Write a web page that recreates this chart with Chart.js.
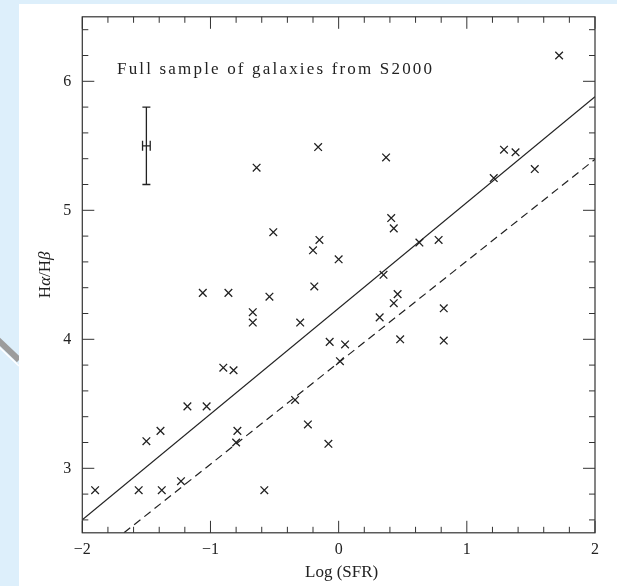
<!DOCTYPE html>
<html>
<head>
<meta charset="utf-8">
<title>Halpha/Hbeta vs Log(SFR)</title>
<script src="https://cdn.jsdelivr.net/npm/chart.js@4.4.0/dist/chart.umd.min.js"></script>
<style>
    html, body { margin: 0; padding: 0; background: #ddeffb; }
    #wrap { position: relative; width: 617px; height: 586px; }
    canvas { display: block; }
</style>
</head>
<body>
<div id="wrap"><canvas id="sfrChart" width="617" height="586"></canvas></div>
<script>
// Galaxy sample
const logSFR = [-1.90, -1.56, -1.50, -1.39, -1.38, -1.23, -1.18, -1.06, -1.03, -0.90,
                -0.86, -0.82, -0.79, -0.80, -0.67, -0.67, -0.64, -0.58, -0.54, -0.51,
                -0.30, -0.34, -0.24, -0.08, -0.16, -0.15, -0.20, -0.19, 0.00, -0.07,
                0.01, 0.05, 0.37, 1.72, 1.29, 1.38, 1.53, 1.21, 0.41, 0.43,
                0.63, 0.78, 0.35, 0.46, 0.43, 0.32, 0.82, 0.48, 0.82];
const balmer = [2.83, 2.83, 3.21, 3.29, 2.83, 2.90, 3.48, 4.36, 3.48, 3.78,
                4.36, 3.76, 3.29, 3.20, 4.21, 4.13, 5.33, 2.83, 4.33, 4.83,
                4.13, 3.53, 3.34, 3.19, 5.49, 4.77, 4.69, 4.41, 4.62, 3.98,
                3.83, 3.96, 5.41, 6.20, 5.47, 5.45, 5.32, 5.25, 4.94, 4.86,
                4.75, 4.77, 4.50, 4.35, 4.28, 4.17, 4.24, 4.00, 3.99];

// fitted relation (solid) and offset relation (dashed)
const fitX = [-2, 2];
const fitY = [2.60, 5.88];
const offX = [-1.675, 2];
const offY = [2.50, 5.395];

// typical error bar
const errX = -1.5;
const errY = 5.5;
const errDy = 0.3;
const errDx = 0.03;

const xTicks = [-2, -1, 0, 1, 2];
const yTicks = [3, 4, 5, 6];

const SERIF = "'Liberation Serif', 'DejaVu Serif', serif";
const INK = '#222';

const toPts = (xs, ys) => xs.map((x, i) => ({ x: x, y: ys[i] }));

// page backdrop: blue margin, white sheet, grey arrow stub
const backdrop = {
    id: 'backdrop',
    beforeDraw(chart) {
        const ctx = chart.ctx;
        ctx.save();
        ctx.fillStyle = '#ddeffb';
        ctx.fillRect(0, 0, chart.width, chart.height);
        ctx.fillStyle = '#ffffff';
        ctx.fillRect(19, 4, chart.width - 19, chart.height - 4);
        ctx.beginPath();
        ctx.rect(0, 0, 19, chart.height);
        ctx.clip();
        ctx.strokeStyle = '#9c9c9c';
        ctx.lineWidth = 6;
        ctx.beginPath();
        ctx.moveTo(-20, 323);
        ctx.lineTo(19, 360);
        ctx.stroke();
        ctx.strokeStyle = '#ffffff';
        ctx.lineWidth = 1.5;
        ctx.beginPath();
        ctx.moveTo(-20, 329);
        ctx.lineTo(19, 366);
        ctx.stroke();
        ctx.restore();
    }
};

// box with inward ticks on all four sides, error bar, labels
const frame = {
    id: 'frame',
    afterDraw(chart) {
        const ctx = chart.ctx;
        const a = chart.chartArea;
        const xs = chart.scales.x, ys = chart.scales.y;
        ctx.save();
        ctx.strokeStyle = '#333';
        ctx.lineWidth = 1.2;
        ctx.strokeRect(a.left, a.top, a.right - a.left, a.bottom - a.top);

        ctx.lineWidth = 1;
        ctx.beginPath();
        for (let i = -10; i <= 10; i++) {
            const px = xs.getPixelForValue(i / 5);
            const len = i % 5 === 0 ? 12 : 6;
            ctx.moveTo(px, a.bottom); ctx.lineTo(px, a.bottom - len);
            ctx.moveTo(px, a.top); ctx.lineTo(px, a.top + len);
        }
        for (let i = 13; i <= 32; i++) {
            const py = ys.getPixelForValue(i / 5);
            const len = i % 5 === 0 ? 12 : 6;
            ctx.moveTo(a.left, py); ctx.lineTo(a.left + len, py);
            ctx.moveTo(a.right, py); ctx.lineTo(a.right - len, py);
        }
        ctx.stroke();

        // error bar
        const ex = xs.getPixelForValue(errX);
        const eyT = ys.getPixelForValue(errY + errDy);
        const eyB = ys.getPixelForValue(errY - errDy);
        const eyC = ys.getPixelForValue(errY);
        const exL = xs.getPixelForValue(errX - errDx);
        const exR = xs.getPixelForValue(errX + errDx);
        ctx.strokeStyle = INK;
        ctx.lineWidth = 1.3;
        ctx.beginPath();
        ctx.moveTo(ex, eyT); ctx.lineTo(ex, eyB);
        ctx.moveTo(ex - 4, eyT); ctx.lineTo(ex + 4, eyT);
        ctx.moveTo(ex - 4, eyB); ctx.lineTo(ex + 4, eyB);
        ctx.moveTo(exL, eyC); ctx.lineTo(exR, eyC);
        ctx.moveTo(exL, eyC - 5); ctx.lineTo(exL, eyC + 5);
        ctx.moveTo(exR, eyC - 5); ctx.lineTo(exR, eyC + 5);
        ctx.stroke();

        // title inside the box, spread out like the original lettering
        ctx.fillStyle = INK;
        ctx.font = '17px ' + SERIF;
        ctx.textBaseline = 'alphabetic';
        const title = 'Full sample of galaxies from S2000';
        const natural = ctx.measureText(title).width;
        const gap = (315 - natural) / (title.length - 1);
        let tx = 117;
        for (const ch of title) {
            ctx.fillText(ch, tx, 73.5);
            tx += ctx.measureText(ch).width + gap;
        }

        // x axis title
        ctx.textAlign = 'center';
        ctx.font = '17px ' + SERIF;
        ctx.fillText('Log (SFR)', (a.left + a.right) / 2 + 3, 577);

        // y axis title with italic greek letters
        const parts = [['H', false], ['\u03b1', true], ['/H', false], ['\u03b2', true]];
        ctx.translate(50, (a.top + a.bottom) / 2);
        ctx.rotate(-Math.PI / 2);
        ctx.textAlign = 'left';
        let total = 0;
        for (const p of parts) {
            ctx.font = (p[1] ? 'italic ' : '') + '17px ' + SERIF;
            total += ctx.measureText(p[0]).width;
        }
        let ox = -total / 2;
        for (const p of parts) {
            ctx.font = (p[1] ? 'italic ' : '') + '17px ' + SERIF;
            ctx.fillText(p[0], ox, 0);
            ox += ctx.measureText(p[0]).width;
        }
        ctx.restore();
    }
};

const ctx = document.getElementById('sfrChart').getContext('2d');
const sfrChart = new Chart(ctx, {
    type: 'scatter',
    data: {
        datasets: [{
            label: 'galaxies',
            data: toPts(logSFR, balmer),
            pointStyle: 'crossRot',
            radius: 5.4,
            borderColor: INK,
            borderWidth: 1.3,
            backgroundColor: INK
        }, {
            label: 'fit',
            data: toPts(fitX, fitY),
            showLine: true,
            pointRadius: 0,
            borderColor: INK,
            borderWidth: 1.2
        }, {
            label: 'offset',
            data: toPts(offX, offY),
            showLine: true,
            pointRadius: 0,
            borderColor: INK,
            borderWidth: 1.2,
            borderDash: [8, 5]
        }]
    },
    options: {
        responsive: false,
        animation: false,
        devicePixelRatio: 1,
        layout: { padding: { top: 16.8, right: 22, left: 0, bottom: 0 } },
        plugins: {
            legend: { display: false },
            tooltip: { enabled: false }
        },
        scales: {
            x: {
                type: 'linear',
                min: -2,
                max: 2,
                grid: { display: false, drawTicks: false },
                border: { display: false },
                afterBuildTicks: s => { s.ticks = xTicks.map(v => ({ value: v })); },
                afterFit: s => { s.height = 53.2; s.paddingLeft = 0; s.paddingRight = 0; },
                ticks: {
                    color: INK,
                    padding: 7,
                    font: { family: SERIF, size: 16 },
                    callback: v => String(v).replace('-', '\u2212')
                }
            },
            y: {
                type: 'linear',
                min: 2.5,
                max: 6.5,
                grid: { display: false, drawTicks: false },
                border: { display: false },
                afterBuildTicks: s => { s.ticks = yTicks.map(v => ({ value: v })); },
                afterFit: s => { s.width = 82.3; s.paddingTop = 0; s.paddingBottom = 0; },
                ticks: {
                    color: INK,
                    padding: 11,
                    font: { family: SERIF, size: 16 }
                }
            }
        }
    },
    plugins: [backdrop, frame]
});
</script>
</body>
</html>
